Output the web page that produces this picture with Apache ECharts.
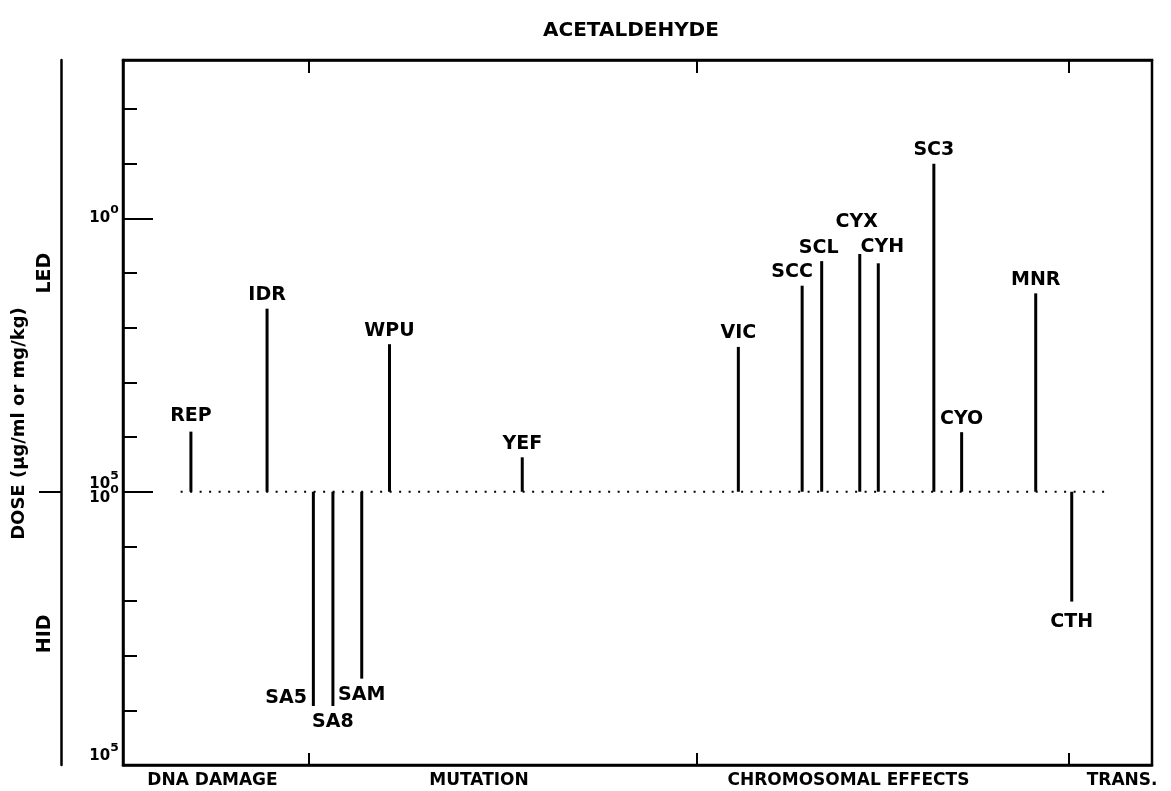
<!DOCTYPE html>
<html>
<head>
<meta charset="utf-8">
<script src="https://cdn.jsdelivr.net/npm/echarts@6/dist/echarts.min.js"></script>
<style>
  html, body { margin: 0; padding: 0; background: #fff; }
  #chart { width: 1171px; height: 791px; }
</style>
</head>
<body>
<div id="chart"></div>
<script>
// Genetic activity profile: one stick per test code, height in log-dose units
const testCodes = ['REP', 'IDR', 'SA5', 'SA8', 'SAM', 'WPU', 'YEF', 'VIC', 'SCC', 'SCL', 'CYX', 'CYH', 'SC3', 'CYO', 'MNR', 'CTH'];
const testSlots = [6.6, 14.0, 18.5, 20.4, 23.2, 25.9, 38.8, 59.8, 66.0, 67.9, 71.6, 73.4, 78.8, 81.5, 88.7, 92.2];
const doseUnits = [1.1, 3.35, -3.92, -3.92, -3.42, 2.7, 0.63, 2.65, 3.77, 4.22, 4.35, 4.18, 6.0, 1.09, 3.63, -2.01];

// End-point groups along the bottom
const groupNames = ['DNA DAMAGE', 'MUTATION', 'CHROMOSOMAL EFFECTS', 'TRANS.'];
const groupLabelAt = [8.7, 34.6, 70.5, 97.1];
const groupBounds = [18.1, 55.8, 91.9];

// Dotted zero line extent
const baselineSpan = [5.6, 95.7];

// Dose axis text: each line is base + exponent
const doseTickValues = [-5, 0, 5];
const doseTickLines = [[['10', '⁵']], [['10', '⁵'], ['10', '⁰']], [['10', '⁰']]];
const sideValues = [4, -2.6];
const sideLabels = ['LED', 'HID'];

const FONT = 'DejaVu Sans';
const INK = '#000';

// Per-label nudges so crowded codes stay readable
const labelTweaks = {
  REP: { offset: [0, -2] },
  SCC: { offset: [-10, 0] },
  SCL: { offset: [-3, 0] },
  CYX: { offset: [-3, -18] },
  CYH: { offset: [4, -3] },
  SA5: { position: ['0%', '100%'], align: 'right', verticalAlign: 'bottom', offset: [-5, 2] },
  CTH: { offset: [0, 4] }
};

const barData = testCodes.map((code, i) => {
  const v = doseUnits[i];
  const label = Object.assign(
    { position: v >= 0 ? 'top' : 'bottom', distance: v >= 0 ? 4 : 7 },
    labelTweaks[code] || {}
  );
  return { name: code, value: [testSlots[i], v], label: label };
});

function doseLabel(v) {
  const lines = doseTickLines[doseTickValues.indexOf(v)];
  if (!lines) return '';
  const suffix = v === -5 ? 'L' : '';
  return lines.map(([b, e]) => '{b' + suffix + '|' + b + '}{e' + suffix + '|' + e + '}').join('\n');
}

const tickText = { fontFamily: FONT, fontWeight: 'bold', color: INK };

const chart = echarts.init(document.getElementById('chart'), null, { renderer: 'canvas' });

chart.setOption({
  animation: false,
  backgroundColor: '#fff',
  title: {
    text: 'ACETALDEHYDE',
    left: 538,
    top: 16,
    textStyle: { fontFamily: FONT, fontWeight: 'bold', fontSize: 20, color: INK }
  },
  grid: {
    left: 123, right: 19, top: 60, bottom: 26,
    show: true, borderColor: INK, borderWidth: 2.5, backgroundColor: 'transparent'
  },
  xAxis: [
    {
      type: 'value', min: 0, max: 100, position: 'bottom',
      axisLine: { show: true, onZero: false, lineStyle: { color: INK, width: 2.5 } },
      axisTick: { show: true, inside: true, length: 12, customValues: groupBounds, lineStyle: { color: INK, width: 2 } },
      axisLabel: {
        show: true, customValues: groupLabelAt, margin: 7,
        formatter: v => groupNames[groupLabelAt.indexOf(v)] || '',
        fontFamily: FONT, fontWeight: 'bold', fontSize: 17, color: INK
      },
      splitLine: { show: false }
    },
    {
      type: 'value', min: 0, max: 100, position: 'top',
      axisLine: { show: true, onZero: false, lineStyle: { color: INK, width: 2.5 } },
      axisTick: { show: true, inside: true, length: 13, customValues: groupBounds, lineStyle: { color: INK, width: 2 } },
      axisLabel: { show: false },
      splitLine: { show: false }
    }
  ],
  yAxis: [
    {
      // short ticks every log unit, with the decade labels
      type: 'value', min: -5, max: 7.9, interval: 1, position: 'left',
      axisLine: { show: true, onZero: false, lineStyle: { color: INK, width: 2.5 } },
      axisTick: { show: true, inside: true, length: 14, lineStyle: { color: INK, width: 2 } },
      axisLabel: {
        show: true, customValues: doseTickValues, margin: 4,
        formatter: doseLabel,
        fontFamily: FONT, fontWeight: 'bold', fontSize: 15, color: INK,
        rich: {
          b: Object.assign({ fontSize: 15, lineHeight: 14, verticalAlign: 'bottom' }, tickText),
          e: Object.assign({ fontSize: 20, lineHeight: 14, verticalAlign: 'bottom', padding: [0, 0, 1, 0] }, tickText),
          bL: Object.assign({ fontSize: 15, lineHeight: 14, verticalAlign: 'bottom', padding: [0, 0, 8, 0] }, tickText),
          eL: Object.assign({ fontSize: 20, lineHeight: 14, verticalAlign: 'bottom', padding: [0, 0, 9, 0] }, tickText)
        }
      },
      splitLine: { show: false }
    },
    {
      // long ticks at the labelled decades
      type: 'value', min: -5, max: 7.9, position: 'left',
      axisLine: { show: false, onZero: false },
      axisTick: { show: true, inside: true, length: 30, customValues: [0, 5], lineStyle: { color: INK, width: 2 } },
      axisLabel: { show: false },
      splitLine: { show: false }
    },
    {
      // outer LED / HID scale
      type: 'value', min: -5, max: 7.9, position: 'left', offset: 62,
      axisLine: { show: true, onZero: false, lineStyle: { color: INK, width: 2.5 } },
      axisTick: { show: true, inside: false, length: 22, customValues: [0], lineStyle: { color: INK, width: 2 } },
      axisLabel: {
        show: true, customValues: sideValues, rotate: 90, margin: 6,
        formatter: v => sideLabels[sideValues.indexOf(v)] || '',
        fontFamily: FONT, fontWeight: 'bold', fontSize: 19, color: INK
      },
      name: 'DOSE (μg/ml or mg/kg)',
      nameLocation: 'middle',
      nameGap: 28,
      nameTextStyle: { fontFamily: FONT, fontWeight: 'bold', fontSize: 18, color: INK, padding: [0, 22, 0, 0] },
      splitLine: { show: false }
    }
  ],
  series: [
    {
      type: 'line',
      xAxisIndex: 0, yAxisIndex: 0,
      data: [[baselineSpan[0], 0], [baselineSpan[1], 0]],
      symbol: 'none', silent: true,
      lineStyle: { color: INK, width: 2, type: [2, 7.5] },
      z: 1
    },
    {
      type: 'bar',
      xAxisIndex: 0, yAxisIndex: 0,
      barWidth: 3,
      data: barData,
      itemStyle: { color: INK },
      label: {
        show: true,
        formatter: p => p.name,
        fontFamily: FONT, fontWeight: 'bold', fontSize: 19, color: INK
      },
      z: 3
    }
  ]
});
</script>
</body>
</html>
